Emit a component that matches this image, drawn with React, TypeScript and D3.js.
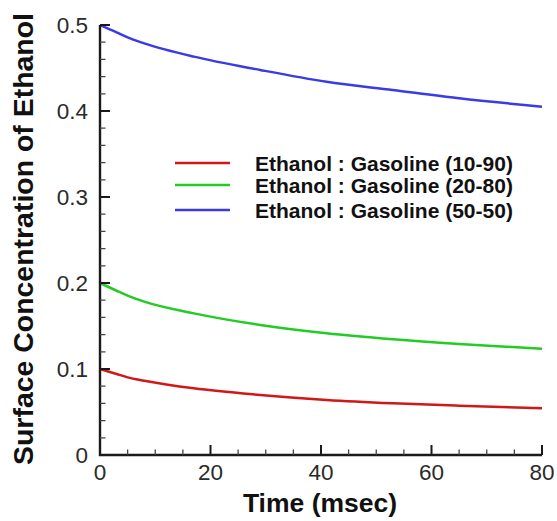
import React from "react";
import * as d3 from "d3";

const timeMs = [0, 3, 5, 8, 17, 29, 41, 53, 65, 80];
const ethanol10 = [0.1, 0.0942, 0.0903, 0.0864, 0.0775, 0.0698, 0.064, 0.0601, 0.0573, 0.0545];
const ethanol20 = [0.2, 0.191, 0.1853, 0.1783, 0.1647, 0.1512, 0.1415, 0.1345, 0.129, 0.1235];
const ethanol50 = [0.5, 0.4915, 0.4855, 0.4787, 0.4632, 0.4477, 0.434, 0.4244, 0.4148, 0.405];
const seriesNames = [
  "Ethanol : Gasoline (10-90)",
  "Ethanol : Gasoline (20-80)",
  "Ethanol : Gasoline (50-50)",
];
const seriesColors = ["#d01818", "#22cc22", "#3a3ae6"];
const xTicks = [0, 20, 40, 60, 80];
const yTicks = [0, 0.1, 0.2, 0.3, 0.4, 0.5];

const W = 557;
const H = 521;
const FONT = "'Liberation Sans', Arial, Helvetica, sans-serif";

export default function App() {
  const x = d3.scaleLinear().domain([0, 80]).range([100, 542]);
  const y = d3.scaleLinear().domain([0, 0.5]).range([455, 25]);
  const series = [ethanol10, ethanol20, ethanol50];
  const lineGen = d3
    .line<number>()
    .x((_, i) => x(timeMs[i]))
    .y((d) => y(d))
    .curve(d3.curveMonotoneX);

  const xMinor = d3.range(0, 80.001, 5).filter((v) => v % 20 !== 0);
  const yMinor = d3.range(0, 0.5001, 0.02).filter((v) => Math.abs(v * 10 - Math.round(v * 10)) > 1e-6);
  const axisColor = "#1a1a1a";
  const x0 = x(0);
  const y0 = y(0);

  const majorTickPath =
    xTicks.map((t) => `M${x(t)},${y0}V${y0 - 10}`).join("") +
    yTicks.map((t) => `M${x0},${y(t)}H${x0 + 10}`).join("");
  const minorTickPath =
    xMinor.map((t) => `M${x(t)},${y0}V${y0 - 5.5}`).join("") +
    yMinor.map((t) => `M${x0},${y(t)}H${x0 + 5.5}`).join("");

  return (
    <svg
      width={W}
      height={H}
      style={{ position: "absolute", left: 0, top: 0, background: "#fff" }}
      fontFamily={FONT}
    >
      {series.map((s, i) => (
        <path key={i} d={lineGen(s) || ""} fill="none" stroke={seriesColors[i]} strokeWidth={2.5} />
      ))}
      {/* tick labels */}
      {xTicks.map((t) => (
        <text key={"xl" + t} x={x(t)} y={480} textAnchor="middle" fontSize={22.5} fill="#2a2a2a">
          {t}
        </text>
      ))}
      {yTicks.map((t) => (
        <text key={"yl" + t} x={88} y={y(t)} dy="0.36em" textAnchor="end" fontSize={22.5} fill="#2a2a2a">
          {t === 0 ? "0" : t.toFixed(1)}
        </text>
      ))}
      {/* axis titles */}
      <text x={320} y={512} textAnchor="middle" fontSize={26.5} fontWeight="bold" fill="#111">
        Time (msec)
      </text>
      <text
        transform="translate(33,239) rotate(-90)"
        textAnchor="middle"
        fontSize={28}
        fontWeight="bold"
        fill="#111"
        textLength={452}
        lengthAdjust="spacingAndGlyphs"
      >
        Surface Concentration of Ethanol
      </text>
      {/* legend */}
      {seriesNames.map((name, i) => {
        const rowY = [163, 185, 210][i];
        return (
          <g key={"lg" + i}>
            <line x1={175} x2={230} y1={rowY} y2={rowY} stroke={seriesColors[i]} strokeWidth={2.5} />
            <text x={255} y={rowY} dy="0.36em" fontSize={21} fontWeight="bold" fill="#111">
              {name}
            </text>
          </g>
        );
      })}
      {/* axes and ticks on top */}
      <path d={`M${x0},${y(0.5)}V${y0}H${x(80)}`} fill="none" stroke={axisColor} strokeWidth={2.4} />
      <path d={majorTickPath} fill="none" stroke={axisColor} strokeWidth={2} />
      <path d={minorTickPath} fill="none" stroke="#444" strokeWidth={1.3} />
    </svg>
  );
}
